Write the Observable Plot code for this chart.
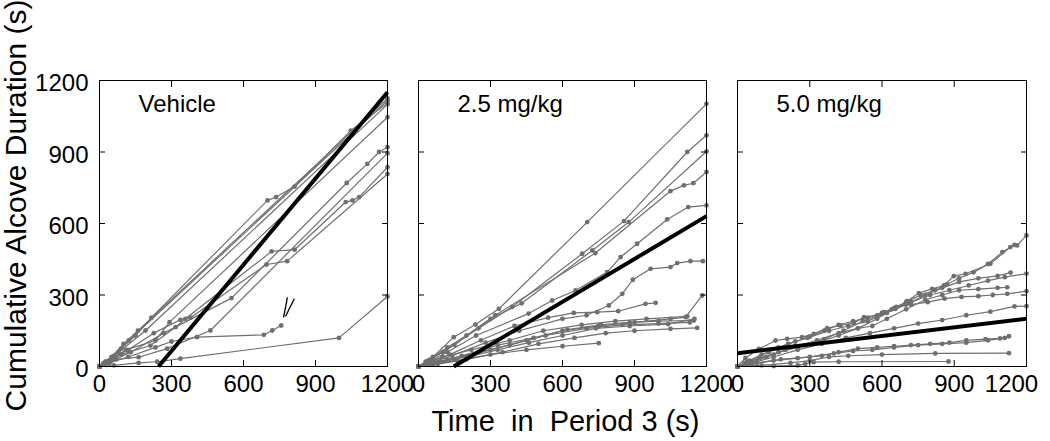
<!DOCTYPE html>
<html><head><meta charset="utf-8">
<script src="https://cdn.jsdelivr.net/npm/d3@7"></script>
<script src="https://cdn.jsdelivr.net/npm/@observablehq/plot@0.6"></script>
<style>
body{margin:0;background:#fff;}
#chart{position:relative;width:1050px;height:441px;overflow:hidden;}
#chart svg{position:absolute;left:0;top:0;}
</style></head><body><div id="chart"></div>
<script>
const panels = ["Vehicle", "2.5 mg/kg", "5.0 mg/kg"];
const xTicks = [0, 300, 600, 900, 1200];
const yTicks = [0, 300, 600, 900, 1200];
const innerTicks = [300, 600, 900];
const yTitle = "Cumulative Alcove Duration (s)";
const xTitle = "Time\u00a0 in\u00a0 Period 3 (s)";

// [time (s), cumulative alcove duration (s)] per rat
const vehicleRats = [
  [[0,0],[20,15],[60,45],[122,109],[1200,1116]],
  [[0,0],[30,20],[80,60],[192,151],[1200,1100]],
  [[0,0],[25,20],[90,75],[150,130],[216,205],[700,697],[736,711],[813,755],[1047,990],[1200,1105]],
  [[0,0],[40,25],[110,70],[233,109],[292,186],[1200,1046]],
  [[0,0],[35,15],[90,50],[212,88],[317,165],[358,200],[717,483],[813,490],[1026,690],[1054,697],[1082,711],[1200,836]],
  [[0,0],[50,30],[120,70],[226,140],[337,196],[379,205],[696,428],[782,442],[1200,808]],
  [[0,0],[45,20],[130,60],[268,140],[550,287],[1030,770],[1116,850],[1165,900],[1200,920]],
  [[0,0],[40,15],[120,40],[233,80],[300,105],[406,123],[685,133],[720,151],[757,172]],
  [[0,0],[60,5],[163,15],[240,20],[337,33],[998,120],[1200,294]],
  [[0,0],[15,12],[50,40],[100,95],[160,150],[1200,1125]],
  [[0,0],[20,8],[70,30],[163,39],[282,75],[462,151],[1200,895]]
];
const lowDoseRats = [
  [[0,0],[60,40],[147,123],[237,176],[335,242],[703,606],[1200,1102]],
  [[0,0],[40,25],[120,80],[250,160],[390,250],[682,473],[856,610],[1120,900],[1200,970]],
  [[0,0],[50,30],[150,90],[300,200],[430,265],[724,487],[876,606],[1200,902]],
  [[0,0],[30,20],[100,60],[200,130],[320,215],[737,476],[1050,736],[1106,760],[1145,769],[1200,816]],
  [[0,0],[40,20],[120,60],[240,130],[459,222],[557,277],[654,319],[786,396],[842,459],[911,515],[1036,617],[1124,669],[1200,676]],
  [[0,0],[50,15],[140,45],[280,100],[420,150],[600,200],[700,215],[793,256],[849,305],[893,364],[967,410],[1050,417],[1078,434],[1133,442],[1185,442]],
  [[0,0],[40,15],[130,50],[260,110],[400,170],[540,205],[647,225],[745,228],[832,232],[946,263],[988,267]],
  [[0,0],[60,10],[150,30],[300,70],[450,110],[600,150],[750,170],[900,185],[1050,200],[1113,207],[1182,298]],
  [[0,0],[70,15],[180,45],[330,90],[480,120],[620,155],[760,175],[880,185],[1000,190],[1147,193]],
  [[0,0],[80,10],[200,30],[350,60],[500,95],[650,120],[780,140],[900,150],[1050,158],[1161,162]],
  [[0,0],[30,15],[100,40],[220,70],[380,110],[520,150],[680,175],[820,190],[950,200],[1120,210]],
  [[0,0],[60,10],[160,25],[300,50],[450,70],[600,85],[751,98]],
  [[0,0],[40,10],[120,30],[250,60],[380,90],[530,130],[700,160],[850,175],[1000,180],[1130,185]],
  [[0,0],[90,20],[200,40],[330,70],[460,100],[600,130],[740,160],[880,170],[1040,178],[1150,200]]
];
const highDoseRats = [
  [[0,0],[33,36],[89,74],[158,109],[206,116],[268,123],[317,137],[372,161],[428,172],[483,183],[525,207],[580,214],[608,228],[656,242],[704,274],[753,308],[808,326],[857,340],[898,379],[947,389],[1050,431],[1133,501],[1161,508],[1200,550]],
  [[0,0],[40,20],[100,50],[170,80],[240,105],[300,125],[360,150],[420,175],[480,190],[540,205],[600,225],[650,245],[700,270],[760,300],[820,320],[870,345],[920,370],[980,395],[1040,430],[1100,480],[1150,510]],
  [[0,0],[50,25],[130,60],[210,95],[290,120],[380,150],[460,170],[540,190],[620,225],[700,260],[780,300],[850,330],[920,355],[1000,370],[1080,380],[1134,394]],
  [[0,0],[30,15],[90,35],[170,60],[250,80],[330,100],[420,130],[500,160],[580,200],[640,240],[720,270],[800,300],[880,320],[960,340],[1040,360],[1110,375],[1200,390]],
  [[0,0],[40,10],[120,40],[200,70],[280,90],[360,115],[440,150],[520,190],[600,220],[660,250],[720,260],[790,270],[860,285],[930,292],[1000,295],[1060,300],[1120,305],[1200,316]],
  [[0,0],[50,20],[150,50],[240,85],[330,110],[420,140],[500,160],[560,170],[620,200],[700,240],[780,280],[850,300],[920,320],[1000,325],[1080,330],[1120,332]],
  [[0,0],[60,15],[150,40],[250,70],[350,95],[450,120],[550,140],[650,160],[750,180],[850,195],[950,215],[1050,230],[1150,252],[1200,253]],
  [[0,0],[60,10],[150,25],[250,35],[350,45],[420,60],[500,75],[580,80],[650,85],[720,90],[800,95],[880,100],[950,110],[1030,115],[1090,118],[1127,127]],
  [[0,0],[80,15],[180,30],[300,40],[400,55],[480,65],[560,70],[650,80],[750,90],[850,95],[950,100],[1040,110],[1110,120]],
  [[0,0],[100,5],[220,15],[300,25],[380,40],[460,45],[600,50],[821,55],[1127,56]],
  [[0,0],[150,2],[250,5],[281,11],[316,18],[420,20],[876,21]]
];
const panelRats = [vehicleRats, lowDoseRats, highDoseRats];

// regression lines: [time, duration] at both ends
const fitStart = [[246, 0], [147, 0], [0, 56]];
const fitEnd = [[1200, 1151], [1200, 631], [1200, 200]];

// arrow annotation in the Vehicle panel (data units)
const arrowStrokes = [
  {x1: 783, y1: 290, x2: 767, y2: 206},
  {x1: 812, y1: 285, x2: 775, y2: 210}
];

const W = 1050, H = 441;
const frames = [[99, 387], [418, 706], [737, 1026]];
const gray = "#6f6f6f";
const font = "'Liberation Sans', Arial, sans-serif";
const fmt = d => String(d);
const chart = document.getElementById("chart");

panelRats.forEach((rats, i) => {
  const rows = rats.flatMap((r, k) => r.map(([t, c]) => ({rat: k, t, c})));
  const [l, r] = frames[i];
  const fit = [{x1: fitStart[i][0], y1: fitStart[i][1], x2: fitEnd[i][0], y2: fitEnd[i][1]}];
  const last = i === 2;
  const marks = [
    Plot.line(rows, {x: "t", y: "c", z: "rat", stroke: gray, strokeWidth: 1.2}),
    Plot.dot(rows, {x: "t", y: "c", r: 2.4, fill: gray, stroke: "none"}),
    Plot.link(fit, {x1: "x1", y1: "y1", x2: "x2", y2: "y2", stroke: "black", strokeWidth: 4}),
    Plot.frame({stroke: "black", strokeWidth: 1}),
    Plot.axisX({anchor: "bottom", ticks: innerTicks, tickSize: -6, tickFormat: () => "", label: null}),
    Plot.axisX({anchor: "top", ticks: innerTicks, tickSize: -6, tickFormat: () => "", label: null}),
    Plot.axisY({anchor: "left", ticks: innerTicks, tickSize: -6, tickFormat: () => "", label: null}),
    Plot.axisY({anchor: "right", ticks: innerTicks, tickSize: -6, tickFormat: () => "", label: null}),
    Plot.axisX({anchor: "bottom", ticks: last ? xTicks.slice(0, -1) : xTicks, tickSize: 0, tickPadding: 8, fontSize: 24, tickFormat: fmt, label: null}),
    Plot.text([panels[i]], {text: d => d, frameAnchor: "top-left", textAnchor: "start", lineAnchor: "middle", dx: 39, dy: 24, fontSize: 24, fill: "black"})
  ];
  if (last) {
    marks.push(Plot.axisX({anchor: "bottom", ticks: xTicks.slice(-1), tickSize: 0, tickPadding: 8, fontSize: 24, tickFormat: fmt, label: null, dx: -15}));
  }
  if (i === 0) {
    marks.push(Plot.axisY({anchor: "left", ticks: yTicks, tickSize: 0, tickPadding: 11, fontSize: 24, tickFormat: fmt, label: null, dy: 3}));
    marks.push(Plot.text([yTitle], {text: d => d, frameAnchor: "left", textAnchor: "middle", lineAnchor: "middle", rotate: -90, dx: -83, dy: -18, fontSize: 30, fill: "black"}));
    marks.push(Plot.link(arrowStrokes, {x1: "x1", y1: "y1", x2: "x2", y2: "y2", stroke: "black", strokeWidth: 1.3}));
  }
  if (i === 1) {
    marks.push(Plot.text([xTitle], {text: d => d, frameAnchor: "bottom", textAnchor: "middle", lineAnchor: "middle", dx: 3, dy: 55, fontSize: 29, fill: "black"}));
  }
  const svg = Plot.plot({
    width: W, height: H,
    marginLeft: l, marginRight: W - r, marginTop: 80, marginBottom: H - 366,
    x: {domain: [0, 1200]},
    y: {domain: [0, 1200]},
    style: {background: "transparent", fontFamily: font, color: "black", overflow: "visible"},
    marks
  });
  chart.appendChild(svg);
});
</script></body></html>
